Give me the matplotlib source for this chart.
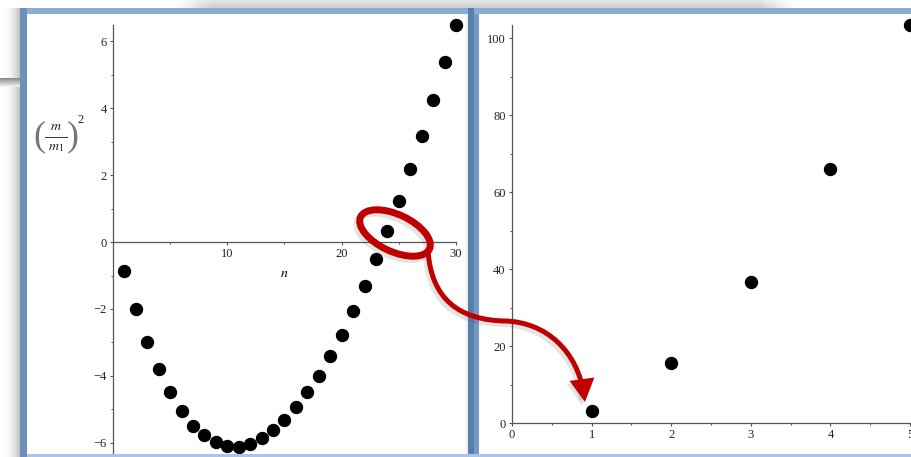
import numpy as np
import matplotlib

matplotlib.use('Agg')
import matplotlib.pyplot as plt
import matplotlib.patheffects as pe
from matplotlib.patches import Rectangle, Ellipse, FancyArrowPatch
from matplotlib.path import Path
from matplotlib.ticker import MultipleLocator

plt.rcParams['font.family'] = ['Liberation Serif', 'DejaVu Serif']
plt.rcParams['mathtext.fontset'] = 'stix'

# (m/m1)^2 against n
n_vals = list(range(1, 31))
ratio_sq = [-0.87, -2.00, -2.98, -3.80, -4.48, -5.04, -5.48, -5.77, -5.97, -6.09,
            -6.11, -6.02, -5.86, -5.61, -5.31, -4.94, -4.48, -4.00, -3.39, -2.77,
            -2.06, -1.31, -0.51, 0.33, 1.22, 2.18, 3.16, 4.24, 5.37, 6.48]

# second branch
k_vals = [1, 2, 3, 4, 5]
k_ratio = [3.2, 15.7, 36.6, 66.0, 103.4]

W, H = 912, 457
AXIS_COL = '#555555'
RED = '#c00000'


def box(x0, y0, x1, y1):
    # pixel rectangle (top-left origin) -> figure fraction
    return [x0 / W, 1 - y1 / H, (x1 - x0) / W, (y1 - y0) / H]


def gradient(ax, arr, x0, y0, x1, y1):
    ax.imshow(arr, extent=(x0, x1, y1, y0), cmap='gray', vmin=0, vmax=1,
              aspect='auto', interpolation='bilinear', zorder=1)


fig = plt.figure(figsize=(W / 100, H / 100), dpi=100)

# background: desktop, shadows, window faces
bg = fig.add_axes([0, 0, 1, 1], zorder=0)
bg.axis('off')

# shadow left of the first window
xs = np.linspace(0, 1, 40)
gradient(bg, np.tile(1 - 0.24 * xs ** 2, (10, 1)), 2, 8, 20, H)

# window edge peeking out at the top
hx = np.linspace(175, 795, 200)
fade = np.clip(np.minimum((hx - 175) / 35, (795 - hx) / 35), 0, 1)
vy = np.linspace(0, 1, 10)[:, None]
gradient(bg, 1 - fade[None, :] * (0.10 + 0.10 * vy), 175, 0, 795, 8)

# grey bar behind on the left
gv = np.linspace(0.55, 0.95, 10)[:, None]
gradient(bg, np.tile(gv, (1, 10)), 0, 78, 20, 87)

bg.add_patch(Rectangle((20, 8), W - 20, H - 8, color='white', zorder=0.5))
# faint shadow along the divider
gradient(bg, np.tile(1 - 0.10 * xs ** 3, (10, 1)), 461, 14, 468, H)

bg.set_xlim(0, W)
bg.set_ylim(H, 0)


def style_axes(ax):
    ax.set_facecolor('none')
    for side in ('top', 'right'):
        ax.spines[side].set_visible(False)
    for side in ('left', 'bottom'):
        ax.spines[side].set_color(AXIS_COL)
        ax.spines[side].set_linewidth(0.9)
    ax.tick_params(which='major', direction='out', length=2.5, width=0.8,
                   color=AXIS_COL, labelsize=9, labelcolor='#222222', pad=2)
    ax.tick_params(which='minor', direction='out', length=1.5, width=0.7,
                   color=AXIS_COL)


# left plot
ax1 = fig.add_axes(box(113, 25, 456, 453), zorder=2)
style_axes(ax1)
ax1.plot(n_vals, ratio_sq, 'o', color='black', ms=8.6, clip_on=False, zorder=3)
ax1.set_xlim(0, 30)
ax1.set_ylim(-6.3, 6.48)
ax1.spines['bottom'].set_position(('data', 0))
ax1.set_xticks([10, 20, 30])
ax1.xaxis.set_minor_locator(MultipleLocator(5))
ax1.set_yticks([-6, -4, -2, 0, 2, 4, 6])
ax1.yaxis.set_minor_locator(MultipleLocator(1))
ax1.set_xlabel('$n$', fontsize=10, labelpad=5)

# right plot
ax2 = fig.add_axes(box(512, 25, 910, 423), zorder=2)
style_axes(ax2)
ax2.plot(k_vals, k_ratio, 'o', color='black', ms=8.6, clip_on=False, zorder=3)
ax2.set_xlim(0, 5)
ax2.set_ylim(0, 103.4)
ax2.set_xticks([0, 1, 2, 3, 4, 5])
ax2.xaxis.set_minor_locator(MultipleLocator(0.5))
ax2.set_yticks([0, 20, 40, 60, 80, 100])
ax2.yaxis.set_minor_locator(MultipleLocator(10))

# overlay: window frames, y label, highlight ring and arrow
ov = fig.add_axes([0, 0, 1, 1], zorder=5)
ov.axis('off')
ov.set_facecolor('none')
ov.set_xlim(0, W)
ov.set_ylim(H, 0)

# (m / m_1)^2 set as a built-up fraction
ov.text(56, 127, '$m$', fontsize=10, ha='center', va='center', color='#222222')
ov.plot([45, 67], [136.5, 136.5], color='#333333', lw=0.7)
ov.text(56, 147, '$m_1$', fontsize=10, ha='center', va='center', color='#222222')
ov.text(39, 137, '(', fontsize=26, color='#777777', ha='center', va='center')
ov.text(73, 137, ')', fontsize=26, color='#777777', ha='center', va='center')
ov.text(81, 120, '2', fontsize=9, color='#222222', ha='center', va='center')

frames = [
    ((20, 8), 455, 6, '#8aaed3'),
    ((20, 8), 7, H - 8, '#6d90ba'),
    ((468, 8), 6, H - 8, '#5a7eab'),
    ((474, 8), 5, H - 8, '#7499c4'),
    ((474, 8), W - 474, 6, '#8aaed3'),
    ((27, 454), W - 27, 3, '#a8c7e6'),
]
for xy, w, h, c in frames:
    ov.add_patch(Rectangle(xy, w, h, color=c, lw=0))

shadow = [pe.SimpleLineShadow(offset=(-2, -2.5), shadow_color='0.3', alpha=0.15),
          pe.Normal()]

ring = Ellipse((395, 233), width=76, height=37, angle=25, fill=False,
               edgecolor=RED, linewidth=5, zorder=6)
ring.set_path_effects(shadow)
ov.add_patch(ring)

verts = [(428, 250), (431, 300), (460, 320), (505, 321),
         (545, 322), (578, 350), (585, 402)]
codes = [Path.MOVETO, Path.CURVE4, Path.CURVE4, Path.CURVE4,
         Path.CURVE4, Path.CURVE4, Path.CURVE4]
arrow = FancyArrowPatch(path=Path(verts, codes),
                        arrowstyle='-|>,head_length=11,head_width=6',
                        mutation_scale=1, color=RED, linewidth=3.6,
                        joinstyle='miter', capstyle='butt', zorder=6)
arrow.set_path_effects(shadow)
ov.add_patch(arrow)

fig.savefig('out.png', dpi=100)
